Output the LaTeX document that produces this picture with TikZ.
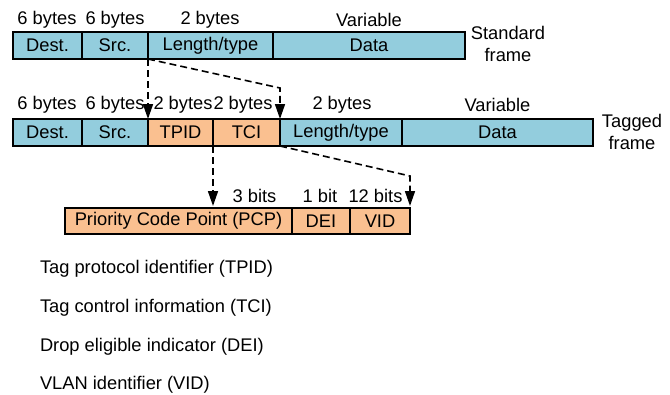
\documentclass[tikz,border=0pt]{standalone}
\usepackage{fontspec}
\setmainfont{Liberation Sans}
\usetikzlibrary{arrows.meta}
\definecolor{fieldblue}{RGB}{147,205,221}
\definecolor{fieldorange}{RGB}{250,192,144}
\begin{document}
\begin{tikzpicture}[x=1pt,y=1pt,
  every node/.style={font=\fontsize{18.3}{22}\selectfont, inner sep=0pt, outer sep=0pt},
  field/.style={draw=black, line width=1.6pt, anchor=west, minimum height=27pt},
  bfield/.style={field, fill=fieldblue},
  ofield/.style={field, fill=fieldorange},
  lbl/.style={anchor=center},
  side/.style={align=center, font=\fontsize{18.3}{22}\selectfont},
  darrow/.style={line width=1.6pt, dash pattern=on 7pt off 4pt,
    -{Triangle[length=15pt,width=10pt]}},
  item/.style={anchor=west}
]
\useasboundingbox (0,0) rectangle (670,-394);

% Standard frame
\node[bfield, minimum width=69pt]  (sdest) at (13,-45.5)  {Dest.};
\node[bfield, minimum width=66pt]  (ssrc)  at (82,-45.5)  {Src.};
\node[bfield, minimum width=125pt] (slen)  at (148,-45.5) {Length/type};
\node[bfield, minimum width=192pt] (sdata) at (273,-45.5) {Data};
\node[lbl] (sl1) at (47,-20)  {6 bytes};
\node[lbl] (sl2) at (115,-20) {6 bytes};
\node[lbl] (sl3) at (210,-20) {2 bytes};
\node[lbl] (sl4) at (369,-20) {Variable};
\node[side] (sname) at (508,-44) {Standard\\frame};

% Tagged frame
\node[bfield, minimum width=69pt]  (tdest) at (13,-132.5)  {Dest.};
\node[bfield, minimum width=66pt]  (tsrc)  at (82,-132.5)  {Src.};
\node[ofield, minimum width=65pt]  (tpid)  at (148,-132.5) {TPID};
\node[ofield, minimum width=67pt]  (tci)   at (213,-132.5) {TCI};
\node[bfield, minimum width=122pt] (tlen)  at (280,-132.5) {Length/type};
\node[bfield, minimum width=191pt] (tdata) at (402,-132.5) {Data};
\node[lbl] (tl1) at (47,-105)  {6 bytes};
\node[lbl] (tl2) at (115,-105) {6 bytes};
\node[lbl] (tl3) at (183,-105) {2 bytes};
\node[lbl] (tl4) at (243,-105) {2 bytes};
\node[lbl] (tl5) at (342,-105) {2 bytes};
\node[lbl] (tl6) at (497.5,-105) {Variable};
\node[side] (tname) at (632,-132) {Tagged\\frame};

% TCI breakdown
\node[ofield, minimum width=227pt, minimum height=26pt] (pcp) at (65,-221)  {Priority Code Point (PCP)};
\node[ofield, minimum width=58pt,  minimum height=26pt] (dei) at (292,-221) {DEI};
\node[ofield, minimum width=60pt,  minimum height=26pt] (vid) at (350,-221) {VID};
\node[lbl] (bl1) at (254.5,-196) {3 bits};
\node[lbl] (bl2) at (320,-196)   {1 bit};
\node[lbl] (bl3) at (375.5,-196) {12 bits};

% Connectors
\coordinate (c1) at (tci.north east |- 0,-88);
\coordinate (c2) at (vid.north east |- 0,-176);
\coordinate (e3) at (tpid.south east |- 0,-206);
\coordinate (e4) at (vid.north east |- 0,-206);
\draw[darrow] (slen.south west) -- (tpid.north west);
\draw[darrow] (slen.south west) -- (c1) -- (tci.north east);
\draw[darrow] (tpid.south east) -- (e3);
\draw[darrow] (tci.south east) -- (c2) -- (e4);

% Legend
\node[item] (i1) at (40,-269) {Tag protocol identifier (TPID)};
\node[item] (i2) at (40,-308) {Tag control information (TCI)};
\node[item] (i3) at (40,-347) {Drop eligible indicator (DEI)};
\node[item] (i4) at (40,-385) {VLAN identifier (VID)};
\end{tikzpicture}
\end{document}
